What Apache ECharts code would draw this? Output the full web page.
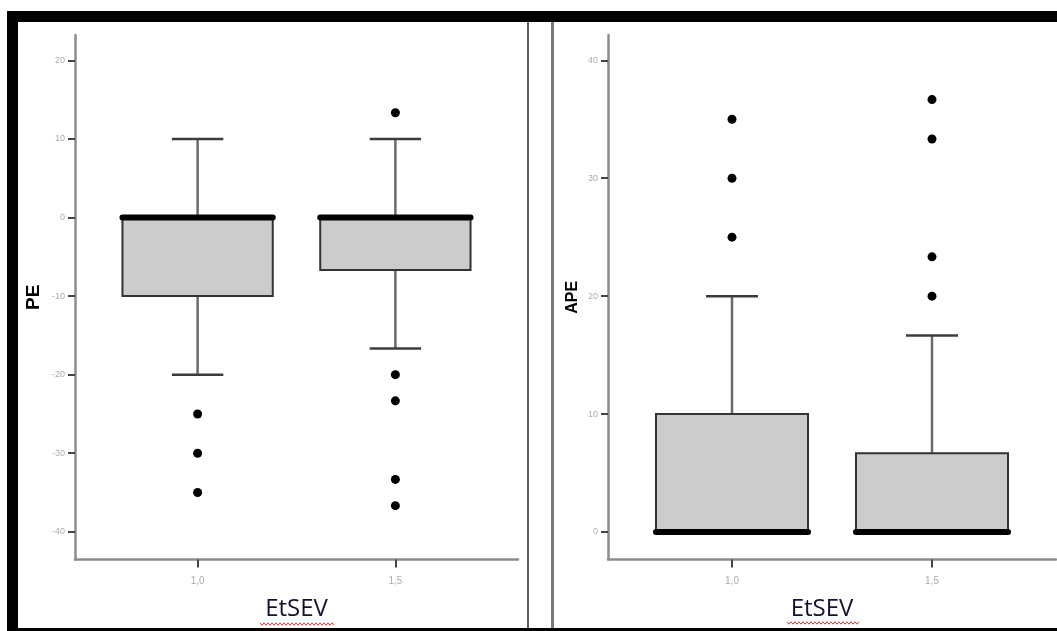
<!DOCTYPE html>
<html>
<head>
<meta charset="utf-8">
<style>
  html, body { margin: 0; padding: 0; background: #ffffff; }
  #chart { width: 1057px; height: 631px; }
</style>
<script src="https://cdn.jsdelivr.net/npm/echarts@6/dist/echarts.min.js"></script>
</head>
<body>
<div id="chart"></div>
<script>
// EtSEV groups and their tick labels
const etsevLevels = [1.0, 1.5];
const etsevLabels = ['1,0', '1,5'];

// y tick values
const peTicks = [-40, -30, -20, -10, 0, 10, 20];
const apeTicks = [0, 10, 20, 30, 40];

// box summaries per group: [lower whisker, Q1, median, Q3, upper whisker]
const peBoxes = [
  [-20, -10, 0, 0, 10],
  [-16.67, -6.67, 0, 0, 10]
];
const apeBoxes = [
  [0, 0, 0, 10, 20],
  [0, 0, 0, 6.67, 16.67]
];

// outlying points per group
const peOutliers = [
  [-25, -30, -35],
  [13.33, -20, -23.33, -33.33, -36.67]
];
const apeOutliers = [
  [35, 30, 25],
  [36.67, 33.33, 23.33, 20]
];

const BOX_W = 0.38;   // box width in x units
const CAP_W = 0.13;   // whisker cap width in x units

function renderBox(params, api) {
  const x = api.value(0);
  const lo = api.coord([x, api.value(1)]);
  const q1 = api.coord([x, api.value(2)]);
  const md = api.coord([x, api.value(3)]);
  const q3 = api.coord([x, api.value(4)]);
  const hi = api.coord([x, api.value(5)]);
  const half = api.size([BOX_W, 0])[0] / 2;
  const cap = api.size([CAP_W, 0])[0] / 2;
  const cx = q1[0];
  const whisker = { stroke: '#6a6a6a', lineWidth: 2.5 };
  const capStyle = { stroke: '#3c3c3c', lineWidth: 2.5 };
  const children = [];
  if (hi[1] < q3[1]) {
    children.push({ type: 'line', shape: { x1: cx, y1: q3[1], x2: cx, y2: hi[1] }, style: whisker });
    children.push({ type: 'line', shape: { x1: cx - cap, y1: hi[1], x2: cx + cap, y2: hi[1] }, style: capStyle });
  }
  if (lo[1] > q1[1]) {
    children.push({ type: 'line', shape: { x1: cx, y1: q1[1], x2: cx, y2: lo[1] }, style: whisker });
    children.push({ type: 'line', shape: { x1: cx - cap, y1: lo[1], x2: cx + cap, y2: lo[1] }, style: capStyle });
  }
  children.push({
    type: 'rect',
    shape: { x: cx - half, y: q3[1], width: half * 2, height: q1[1] - q3[1] },
    style: { fill: '#cccccc', stroke: '#333333', lineWidth: 2 }
  });
  children.push({
    type: 'line',
    shape: { x1: cx - half, y1: md[1], x2: cx + half, y2: md[1] },
    style: { stroke: '#000000', lineWidth: 6, lineCap: 'round' }
  });
  return { type: 'group', children: children };
}

function boxData(boxes) {
  return etsevLevels.map((x, i) => [x].concat(boxes[i]));
}
function outlierData(groups) {
  const out = [];
  etsevLevels.forEach((x, i) => groups[i].forEach(v => out.push([x, v])));
  return out;
}

const tickLabelStyle = { fontSize: 9, color: '#acacac', fontFamily: 'Liberation Sans' };

function xAxisFor(gridIndex, namePadding) {
  return {
    gridIndex: gridIndex,
    type: 'value',
    min: 0.69,
    max: 1.81,
    axisLine: { show: true, onZero: false, lineStyle: { color: '#8c8c8c', width: 2.5 } },
    axisTick: { show: true, customValues: etsevLevels, length: 8, lineStyle: { color: '#444444', width: 2 } },
    axisLabel: Object.assign({
      customValues: etsevLevels,
      margin: 17,
      formatter: v => etsevLabels[etsevLevels.indexOf(v)]
    }, tickLabelStyle, { fontSize: 10 }),
    splitLine: { show: false },
    name: 'EtSEV',
    nameLocation: 'middle',
    nameGap: 38,
    nameTextStyle: {
      fontSize: 24, color: '#12122a', fontFamily: 'Open Sans',
      padding: namePadding
    }
  };
}

function yAxisFor(gridIndex, min, max, ticks, name, nameGap, nameSize) {
  return {
    gridIndex: gridIndex,
    type: 'value',
    min: min,
    max: max,
    axisLine: { show: true, onZero: false, lineStyle: { color: '#8c8c8c', width: 2.5 } },
    axisTick: { show: true, customValues: ticks, length: 7, lineStyle: { color: '#444444', width: 2 } },
    axisLabel: Object.assign({ customValues: ticks, margin: 10 }, tickLabelStyle),
    splitLine: { show: false },
    name: name,
    nameLocation: 'middle',
    nameGap: nameGap,
    nameTextStyle: { fontSize: nameSize, fontWeight: 'bold', color: '#000000', fontFamily: 'Liberation Sans' }
  };
}

// red wavy underline under the x titles
function wavy(x0, x1, y) {
  const pts = [];
  let up = true;
  for (let x = x0; x <= x1; x += 2) {
    pts.push([x, y + (up ? -1.2 : 1.2)]);
    up = !up;
  }
  return {
    type: 'polyline',
    shape: { points: pts },
    style: { stroke: '#e23a3a', lineWidth: 1, fill: null },
    z: 10
  };
}

const chart = echarts.init(document.getElementById('chart'), null, { renderer: 'canvas' });

chart.setOption({
  animation: false,
  backgroundColor: '#ffffff',
  grid: [
    { left: 75, top: 35, width: 443, height: 524.5 },
    { left: 608, top: 35, width: 448, height: 524.5 }
  ],
  xAxis: [xAxisFor(0, [0, 0, 0, 0]), xAxisFor(1, [0, 20, 0, 0])],
  yAxis: [
    yAxisFor(0, -43.52, 23.22, peTicks, 'PE', 32, 19),
    yAxisFor(1, -2.34, 42.15, apeTicks, 'APE', 27, 16)
  ],
  series: [
    {
      type: 'custom', xAxisIndex: 0, yAxisIndex: 0,
      renderItem: renderBox, data: boxData(peBoxes),
      encode: { x: 0, y: [1, 2, 3, 4, 5] }
    },
    {
      type: 'scatter', xAxisIndex: 0, yAxisIndex: 0,
      data: outlierData(peOutliers), symbolSize: 9,
      itemStyle: { color: '#000000', opacity: 1 }, z: 5
    },
    {
      type: 'custom', xAxisIndex: 1, yAxisIndex: 1,
      renderItem: renderBox, data: boxData(apeBoxes),
      encode: { x: 0, y: [1, 2, 3, 4, 5] }
    },
    {
      type: 'scatter', xAxisIndex: 1, yAxisIndex: 1,
      data: outlierData(apeOutliers), symbolSize: 9,
      itemStyle: { color: '#000000', opacity: 1 }, z: 5
    }
  ],
  graphic: [
    // outer frame
    { type: 'rect', shape: { x: 7, y: 11, width: 1050, height: 11 }, style: { fill: '#000000' }, z: 20 },
    { type: 'rect', shape: { x: 7, y: 11, width: 11, height: 620 }, style: { fill: '#000000' }, z: 20 },
    { type: 'rect', shape: { x: 7, y: 628, width: 1050, height: 3 }, style: { fill: '#000000' }, z: 20 },
    // panel divider
    { type: 'rect', shape: { x: 527, y: 22, width: 2, height: 606 }, style: { fill: '#5e5e5e' }, z: 20 },
    { type: 'rect', shape: { x: 551, y: 22, width: 3, height: 606 }, style: { fill: '#7a7a7a' }, z: 20 },
    wavy(260, 334, 624),
    wavy(787, 860, 623)
  ]
});
</script>
</body>
</html>
